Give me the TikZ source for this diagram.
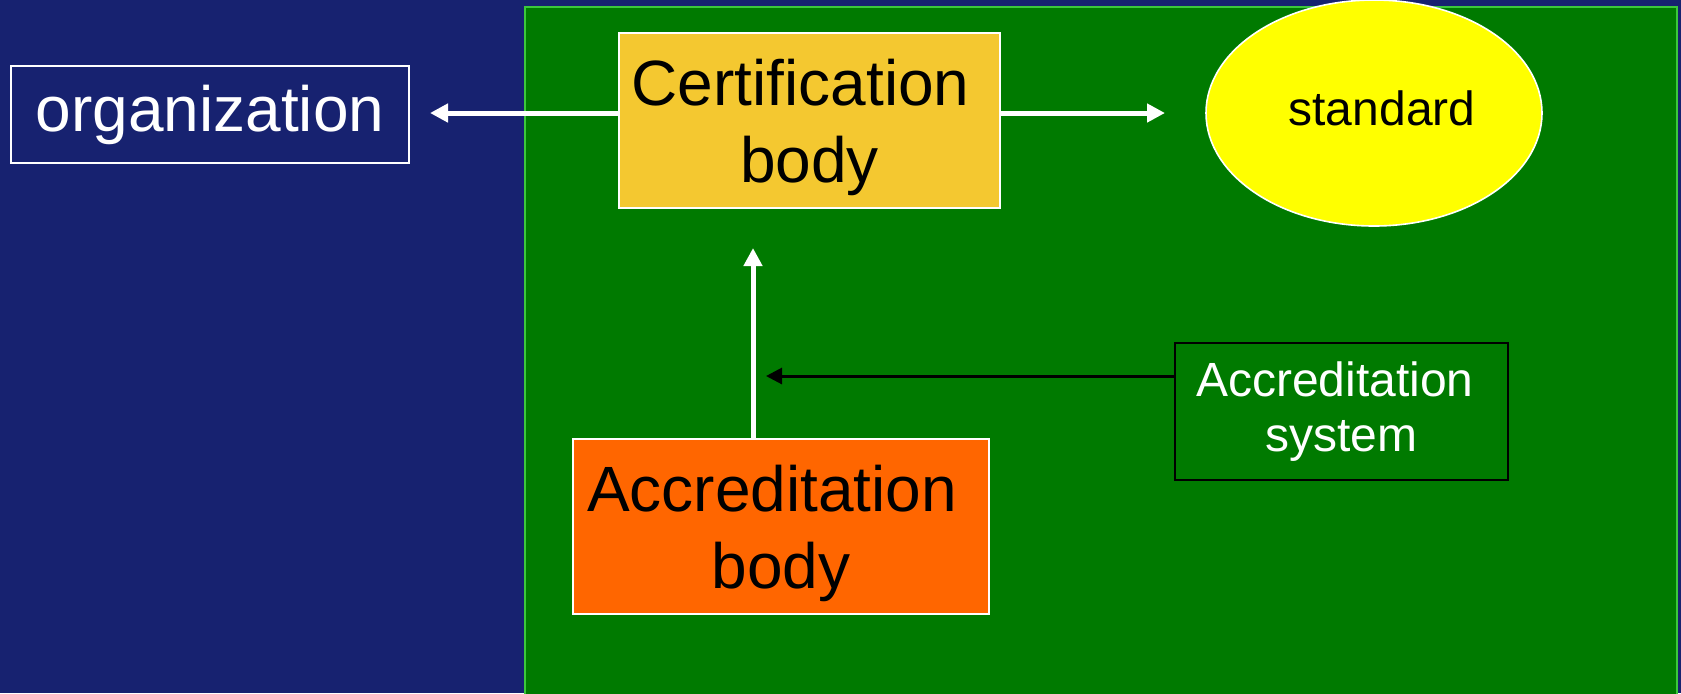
\documentclass[tikz,border=0pt]{standalone}
\usepackage{fontspec}
\setmainfont{Liberation Sans}
\usetikzlibrary{positioning, arrows.meta, shapes.geometric}

\definecolor{navybg}{RGB}{23,34,112}
\definecolor{fieldgreen}{RGB}{0,122,0}
\definecolor{edgegreen}{RGB}{60,200,60}
\definecolor{certyellow}{RGB}{244,200,48}
\definecolor{accorange}{RGB}{255,102,0}
\definecolor{stdyellow}{RGB}{255,255,0}

\tikzset{
  bigtext/.style={font=\fontsize{32}{38.5}\selectfont},
  smalltext/.style={font=\fontsize{24}{27.5}\selectfont},
  whitearrow/.style={-{Triangle[length=9pt, width=9pt]}, white, line width=2.5pt},
}

\begin{document}
\begin{tikzpicture}[x=0.5pt, y=-0.5pt]
		\useasboundingbox (0, 0) rectangle (1681, 693);
		\fill[navybg] (0, 0) rectangle (1681, 693);
		\begin{scope}
			\clip (0, 0) rectangle (1681, 693);
			\draw[edgegreen, fill=fieldgreen, line width=1.2pt] (525, 7) rectangle (1677, 720);
		\end{scope}
		\node[draw=white, rectangle, line width=0.8pt, minimum width=199pt, minimum height=48.5pt, inner sep=0, text=white, bigtext] (org) at (210, 114.5) {organization};
		\node[draw=white, rectangle, line width=0.8pt, minimum width=190.5pt, minimum height=87.5pt, inner sep=0, fill=certyellow, align=center, text depth=0pt, bigtext] (cb) at (809.5, 120.5) {\mbox{Certification\ }\\body};
		\node[draw=white, ellipse, line width=0.8pt, minimum width=168pt, minimum height=113pt, inner sep=0, fill=stdyellow, smalltext] (std) at (1374, 113) {\raisebox{5pt}{\hspace{8pt}standard}};
		\node[draw=white, rectangle, line width=0.8pt, minimum width=208pt, minimum height=87.5pt, inner sep=0, fill=accorange, align=center, text depth=0pt, bigtext] (ab) at (781, 526.5) {\mbox{Accreditation\ }\\body};
		\node[draw=black, rectangle, line width=0.8pt, minimum width=166.5pt, minimum height=68.5pt, inner sep=0, fill=fieldgreen, text=white, align=center, smalltext] (as) at (1341.5, 411.5) {\mbox{Accreditation\ }\\system};
		\coordinate (orgtip) at (430, 113);
		\coordinate (stdtip) at (1165, 113);
		\coordinate (cbtip) at (753, 248);
		\coordinate (astip) at (766, 376);
		\draw[whitearrow] (cb.west |- orgtip) -- (orgtip);
		\draw[whitearrow] (cb.east |- stdtip) -- (stdtip);
		\draw[whitearrow] (ab.north -| cbtip) -- (cbtip);
		\draw[-{Triangle[length=8pt, width=8pt]}, black, line width=1.5pt] (as.west |- astip) -- (astip);
	\end{tikzpicture}
\end{document}
